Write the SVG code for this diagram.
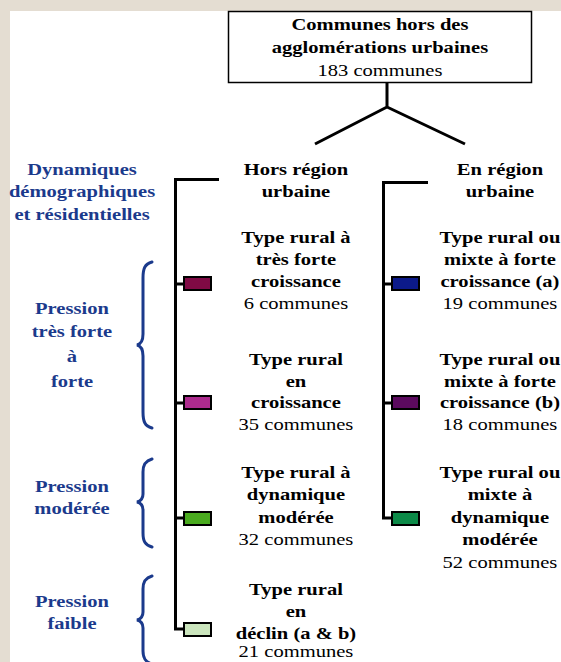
<svg xmlns="http://www.w3.org/2000/svg" width="561" height="662" viewBox="0 0 561 662">
<style>
  .t { font-family: "Liberation Serif", "DejaVu Serif", "Times New Roman", serif; font-size: 17px; text-anchor: middle; fill: #000; }
  .b { font-weight: bold; }
  .blue { fill: #1b3a8c; font-weight: bold; }
  .ln { stroke: #000; stroke-width: 3; fill: none; }
  .br { stroke: #1b3a8c; stroke-width: 3; fill: none; stroke-linecap: round; }
  .sw { stroke: #000; stroke-width: 2; }
</style>
<rect x="0" y="0" width="561" height="662" fill="#e4ddd2"/>
<rect x="10" y="11" width="551" height="651" fill="#ffffff"/>

<g id="connectors">
  <path class="ln" d="M387,83 V107 M387,107 L315,144 M387,107 L465,144"/>
  <path class="ln" d="M219,179.5 H175.5 V629 H184"/>
  <path class="ln" d="M175,284 H184 M175,403 H184 M175,518 H184"/>
  <path class="ln" d="M428,182.5 H383.5 V518 H392"/>
  <path class="ln" d="M383,284 H392 M383,403 H392"/>
</g>

<g id="root">
  <rect x="228.5" y="11.5" width="303" height="71" fill="#fff" stroke="#000" stroke-width="1.5"/>
  <g transform="scale(1.21,1)">
    <text class="t b" x="314" y="30">Communes hors des</text>
    <text class="t b" x="314" y="53">agglomérations urbaines</text>
    <text class="t" x="314" y="76">183 communes</text>
  </g>
</g>

<g id="label-dynamiques">
  <g transform="scale(1.21,1)">
    <text class="t blue" x="67.8" y="175">Dynamiques</text>
    <text class="t blue" x="67.8" y="197">démographiques</text>
    <text class="t blue" x="67.8" y="220">et résidentielles</text>
  </g>
</g>

<g id="label-forte">
  <path class="br" d="M152,262 C145,264 143,268 143,278 L143,334 C143,341 141,344 137,345 C141,346 143,349 143,356 L143,412 C143,422 145,426 152,428"/>
  <g transform="scale(1.21,1)">
    <text class="t blue" x="59.5" y="314">Pression</text>
    <text class="t blue" x="59.5" y="337">très forte</text>
    <text class="t blue" x="59.5" y="362">à</text>
    <text class="t blue" x="59.5" y="387">forte</text>
  </g>
</g>

<g id="label-moderee">
  <path class="br" d="M152,459 C145,461 143,465 143,472 L143,494 C143,499 141,501 137,502 C141,503 143,505 143,510 L143,533 C143,541 145,545 152,547"/>
  <g transform="scale(1.21,1)">
    <text class="t blue" x="59.5" y="492">Pression</text>
    <text class="t blue" x="59.5" y="514">modérée</text>
  </g>
</g>

<g id="label-faible">
  <path class="br" d="M152,576 C145,578 143,582 143,589 L143,612 C143,617 141,619 137,620 C141,621 143,623 143,628 L143,651 C143,658 145,662 152,664"/>
  <g transform="scale(1.21,1)">
    <text class="t blue" x="59.5" y="607">Pression</text>
    <text class="t blue" x="59.5" y="629">faible</text>
  </g>
</g>

<g id="hors-region">
  <g transform="scale(1.21,1)">
    <text class="t b" x="244.6" y="175">Hors région</text>
    <text class="t b" x="244.6" y="197">urbaine</text>
  </g>
</g>

<g id="en-region">
  <g transform="scale(1.21,1)">
    <text class="t b" x="413.2" y="175">En région</text>
    <text class="t b" x="413.2" y="197">urbaine</text>
  </g>
</g>

<g id="hors-1">
  <rect class="sw" x="184" y="277" width="27" height="13" fill="#800a44"/>
  <g transform="scale(1.21,1)">
    <text class="t b" x="244.6" y="243">Type rural à</text>
    <text class="t b" x="244.6" y="265">très forte</text>
    <text class="t b" x="244.6" y="287">croissance</text>
    <text class="t" x="244.6" y="309">6 communes</text>
  </g>
</g>

<g id="hors-2">
  <rect class="sw" x="184" y="396" width="27" height="13" fill="#ad2b8e"/>
  <g transform="scale(1.21,1)">
    <text class="t b" x="244.6" y="365">Type rural</text>
    <text class="t b" x="244.6" y="387">en</text>
    <text class="t b" x="244.6" y="408">croissance</text>
    <text class="t" x="244.6" y="430">35 communes</text>
  </g>
</g>

<g id="hors-3">
  <rect class="sw" x="184" y="512" width="27" height="13" fill="#4aab1f"/>
  <g transform="scale(1.21,1)">
    <text class="t b" x="244.6" y="478">Type rural à</text>
    <text class="t b" x="244.6" y="500">dynamique</text>
    <text class="t b" x="244.6" y="523">modérée</text>
    <text class="t" x="244.6" y="545">32 communes</text>
  </g>
</g>

<g id="hors-4">
  <rect class="sw" x="184" y="623" width="27" height="13" fill="#cbe5bd"/>
  <g transform="scale(1.21,1)">
    <text class="t b" x="244.6" y="595">Type rural</text>
    <text class="t b" x="244.6" y="617">en</text>
    <text class="t b" x="244.6" y="639">déclin (a &amp; b)</text>
    <text class="t" x="244.6" y="657">21 communes</text>
  </g>
</g>

<g id="en-1">
  <rect class="sw" x="392" y="277" width="27" height="13" fill="#0c1a8a"/>
  <g transform="scale(1.21,1)">
    <text class="t b" x="413.2" y="243">Type rural ou</text>
    <text class="t b" x="413.2" y="265">mixte à forte</text>
    <text class="t b" x="413.2" y="287">croissance (a)</text>
    <text class="t" x="413.2" y="309">19 communes</text>
  </g>
</g>

<g id="en-2">
  <rect class="sw" x="392" y="396" width="27" height="13" fill="#5c0a5f"/>
  <g transform="scale(1.21,1)">
    <text class="t b" x="413.2" y="365">Type rural ou</text>
    <text class="t b" x="413.2" y="387">mixte à forte</text>
    <text class="t b" x="413.2" y="408">croissance (b)</text>
    <text class="t" x="413.2" y="430">18 communes</text>
  </g>
</g>

<g id="en-3">
  <rect class="sw" x="392" y="512" width="27" height="13" fill="#0c8a48"/>
  <g transform="scale(1.21,1)">
    <text class="t b" x="413.2" y="478">Type rural ou</text>
    <text class="t b" x="413.2" y="500">mixte à</text>
    <text class="t b" x="413.2" y="523">dynamique</text>
    <text class="t b" x="413.2" y="545">modérée</text>
    <text class="t" x="413.2" y="568">52 communes</text>
  </g>
</g>
</svg>
